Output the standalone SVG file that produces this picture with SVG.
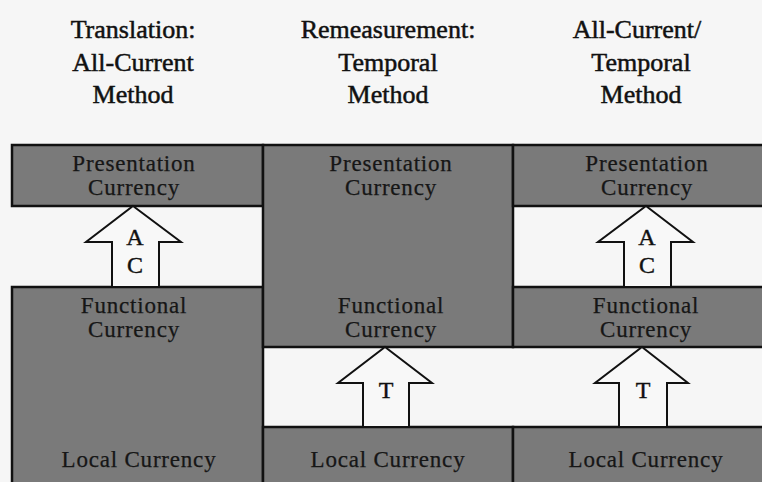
<svg xmlns="http://www.w3.org/2000/svg" width="762" height="482" viewBox="0 0 762 482">
<style>
.hdr{font-family:"Liberation Serif","Times New Roman",serif;font-size:26px;fill:#111;stroke:#111;stroke-width:0.5;text-anchor:middle}
.box{fill:#7a7a7a;stroke:#111;stroke-width:2.5}
.lbl{font-family:"Liberation Serif","Times New Roman",serif;font-size:23px;fill:#161616;stroke:#161616;stroke-width:0.25;text-anchor:middle;letter-spacing:0.8px}
.arr{fill:#f8f8f8;stroke:#111;stroke-width:2;stroke-linejoin:miter}
.alb{font-family:"Liberation Serif","Times New Roman",serif;font-size:24px;fill:#111;stroke:#111;stroke-width:0.4;text-anchor:middle}
</style>
<rect x="0" y="0" width="762" height="482" fill="#f6f6f6"/>

<g id="headers">
<text class="hdr" x="133" y="38">Translation:</text>
<text class="hdr" x="133" y="71">All-Current</text>
<text class="hdr" x="133" y="103">Method</text>
<text class="hdr" x="388" y="38">Remeasurement:</text>
<text class="hdr" x="388" y="71">Temporal</text>
<text class="hdr" x="388" y="103">Method</text>
<text class="hdr" x="637" y="38">All-Current/</text>
<text class="hdr" x="641" y="71">Temporal</text>
<text class="hdr" x="641" y="103">Method</text>
</g>

<g id="left-presentation">
<rect class="box" x="12" y="145" width="251" height="61"/>
<text class="lbl" x="134" y="171">Presentation</text>
<text class="lbl" x="134" y="195">Currency</text>
</g>
<g id="left-functional-local">
<rect class="box" x="12" y="287" width="251" height="205"/>
<text class="lbl" x="134" y="313">Functional</text>
<text class="lbl" x="134" y="337">Currency</text>
<text class="lbl" x="139" y="467">Local Currency</text>
</g>

<g id="mid-presentation-functional">
<rect class="box" x="263" y="145" width="250" height="202"/>
<text class="lbl" x="391" y="171">Presentation</text>
<text class="lbl" x="391" y="195">Currency</text>
<text class="lbl" x="391" y="313">Functional</text>
<text class="lbl" x="391" y="337">Currency</text>
</g>
<g id="mid-local">
<rect class="box" x="263" y="427" width="250" height="65"/>
<text class="lbl" x="388" y="467">Local Currency</text>
</g>

<g id="right-presentation">
<rect class="box" x="513" y="145" width="260" height="61"/>
<text class="lbl" x="647" y="171">Presentation</text>
<text class="lbl" x="647" y="195">Currency</text>
</g>
<g id="right-functional">
<rect class="box" x="513" y="287" width="260" height="60"/>
<text class="lbl" x="646" y="313">Functional</text>
<text class="lbl" x="646" y="337">Currency</text>
</g>
<g id="right-local">
<rect class="box" x="513" y="427" width="260" height="65"/>
<text class="lbl" x="646" y="467">Local Currency</text>
</g>

<g id="connectors">
<g id="arrow-left-ac">
<polygon class="arr" points="133,206 181,242 159,242 159,287 112,287 112,242 86,242"/>
<text class="alb" x="135" y="245">A</text>
<text class="alb" x="135" y="273">C</text>
</g>
<g id="arrow-right-ac">
<polygon class="arr" points="646,206 693,242 671,242 671,287 624,287 624,242 598,242"/>
<text class="alb" x="647" y="245">A</text>
<text class="alb" x="647" y="273">C</text>
</g>
<g id="arrow-mid-t">
<polygon class="arr" points="385,347 432,383 409,383 409,427 363,427 363,383 338,383"/>
<text class="alb" x="386" y="398">T</text>
</g>
<g id="arrow-right-t">
<polygon class="arr" points="642,347 688,383 667,383 667,427 619,427 619,383 595,383"/>
<text class="alb" x="643" y="398">T</text>
</g>
</g>
</svg>
